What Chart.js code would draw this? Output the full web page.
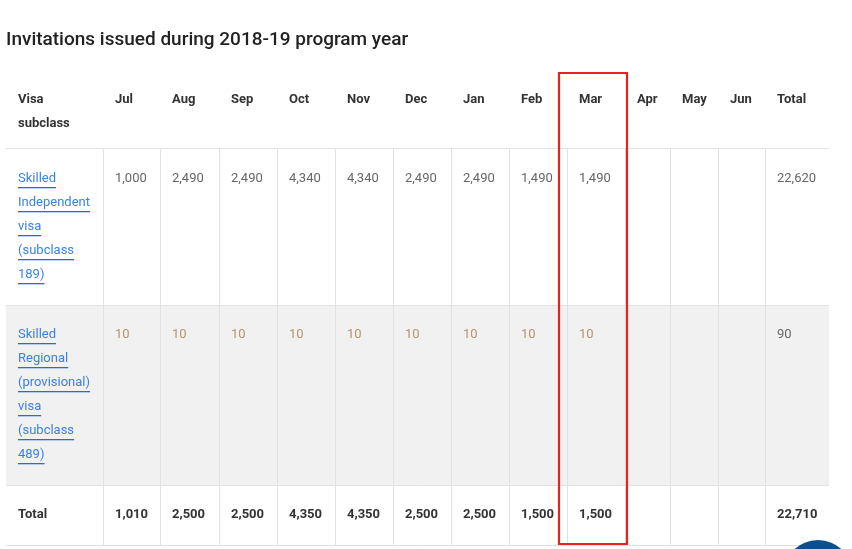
<!DOCTYPE html><html><head><meta charset="utf-8">
<script src="https://cdn.jsdelivr.net/npm/chart.js@4/dist/chart.umd.min.js"></script>
<style>html,body{margin:0;padding:0;background:#fff}</style></head><body>
<canvas id="c" width="852" height="549"></canvas>
<script>
const title = "Invitations issued during 2018-19 program year";
const months = ["Jul","Aug","Sep","Oct","Nov","Dec","Jan","Feb","Mar","Apr","May","Jun","Total"];
const rowLabels = [["Skilled","Independent","visa","(subclass","189)"],["Skilled","Regional","(provisional)","visa","(subclass","489)"]];
const row189 = [1000,2490,2490,4340,4340,2490,2490,1490,1490,null,null,null,22620];
const row489 = [10,10,10,10,10,10,10,10,10,null,null,null,90];
const rowTotal = [1010,2500,2500,4350,4350,2500,2500,1500,1500,null,null,null,22710];
// layout (pixels in scale units)
const colEdges = [6,103,160,219,277,335,393,451,509,567,625,670,718,765,829];
const rowEdges = [72,148,305,485,545];
const fmt = v => v==null ? "" : v.toLocaleString("en-US");
const F = "Roboto, 'Open Sans', sans-serif";
const tablePlugin = {
  id:"table",
  afterDraw(chart){
    const ctx=chart.ctx, X=chart.scales.x, Y=chart.scales.y;
    const px=v=>X.getPixelForValue(v), py=v=>Y.getPixelForValue(v);
    ctx.save();
    ctx.fillStyle="#222"; ctx.font="500 19px "+F; ctx.textBaseline="middle"; ctx.textAlign="left";
    ctx.fillText(title,px(6),py(40));
    // grey row
    ctx.fillStyle="#f1f1f1"; ctx.fillRect(px(6),py(rowEdges[2]),px(829)-px(6),py(rowEdges[3])-py(rowEdges[2]));
    // lines
    ctx.strokeStyle="#e2e2e2"; ctx.lineWidth=1;
    [148,305,485,545].forEach(y=>{ctx.beginPath();ctx.moveTo(px(6),py(y)+0.5);ctx.lineTo(px(829),py(y)+0.5);ctx.stroke();});
    for(let i=1;i<colEdges.length-1;i++){ctx.beginPath();ctx.moveTo(px(colEdges[i])+0.5,py(148));ctx.lineTo(px(colEdges[i])+0.5,py(545));ctx.stroke();}
    // header
    ctx.fillStyle="#333"; ctx.font="bold 13px "+F;
    ctx.fillText("Visa",px(18),py(100)); ctx.fillText("subclass",px(18),py(124));
    months.forEach((m,i)=>ctx.fillText(m,px(colEdges[i+1]+12),py(100)));
    // row labels (links)
    ctx.font="13px "+F;
    rowLabels.forEach((lines,r)=>{
      const y0 = r===0?179:335;
      lines.forEach((t,k)=>{
        const y=py(y0+24*k); ctx.fillStyle="#3b82e0"; ctx.fillText(t,px(18),y);
        const w=ctx.measureText(t).width; ctx.fillStyle="#1f6fe0"; ctx.fillRect(px(18),y+8,w,1.3);
      });
    });
    ctx.fillStyle="#666"; row189.forEach((v,i)=>ctx.fillText(fmt(v),px(colEdges[i+1]+12),py(179)));
    row489.forEach((v,i)=>{ctx.fillStyle=i===12?"#666":"#b5946a";ctx.fillText(fmt(v),px(colEdges[i+1]+12),py(335));});
    ctx.fillStyle="#333"; ctx.font="bold 13px "+F;
    ctx.fillText("Total",px(18),py(515));
    rowTotal.forEach((v,i)=>ctx.fillText(fmt(v),px(colEdges[i+1]+12),py(515)));
    // highlight
    ctx.strokeStyle="#e8221c"; ctx.lineWidth=2.2;
    ctx.beginPath(); ctx.rect(px(559),py(73),px(627)-px(559),py(544)-py(73)); ctx.stroke();
    // corner circle
    ctx.fillStyle="#0b4f8e"; ctx.beginPath(); ctx.arc(px(818),py(575),35,0,Math.PI*2); ctx.fill();
    ctx.restore();
  }
};
new Chart(document.getElementById("c"),{
  type:"scatter",
  data:{datasets:[{data:[]}]},
  options:{responsive:false,animation:false,layout:{padding:0},
    plugins:{legend:{display:false},tooltip:{enabled:false}},
    scales:{x:{type:"linear",min:0,max:852,display:false},y:{type:"linear",min:0,max:549,reverse:true,display:false}}},
  plugins:[tablePlugin]
});
</script></body></html>
